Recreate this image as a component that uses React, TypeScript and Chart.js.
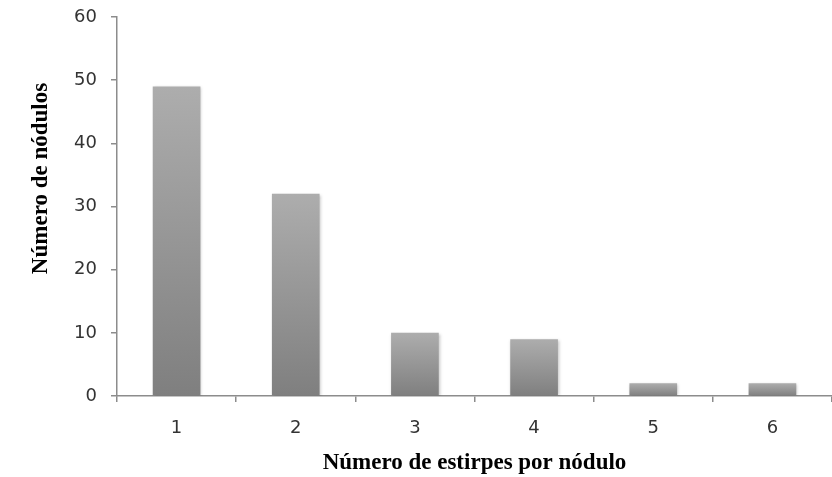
import React, { useEffect, useRef } from "react";
import { Chart, registerables } from "chart.js";

Chart.register(...registerables);

const categories = ["1", "2", "3", "4", "5", "6"];
const nodulos = [49, 32, 10, 9, 2, 2];
const yTicks = [0, 10, 20, 30, 40, 50, 60];
const xTitle = "Número de estirpes por nódulo";
const yTitle = "Número de nódulos";

const yTitlePlugin = {
  id: "yTitlePlugin",
  afterDraw(chart: any) {
    const { ctx, chartArea } = chart;
    ctx.save();
    ctx.font = "bold 23px 'Liberation Serif', 'Times New Roman', serif";
    ctx.fillStyle = "#000";
    ctx.textAlign = "center";
    ctx.textBaseline = "middle";
    ctx.translate(41, (chartArea.top + chartArea.bottom) / 2 - 28);
    ctx.rotate(-Math.PI / 2);
    ctx.fillText(yTitle, 0, 0);
    ctx.restore();
  },
};

const shadowPlugin = {
  id: "shadowPlugin",
  beforeDatasetsDraw(chart: any) {
    const c = chart.ctx;
    c.save();
    c.shadowColor = "rgba(0,0,0,0.25)";
    c.shadowBlur = 3;
    c.shadowOffsetX = 1;
    c.shadowOffsetY = 1;
  },
  afterDatasetsDraw(chart: any) {
    chart.ctx.restore();
  },
};

export default function App() {
  const ref = useRef<HTMLCanvasElement | null>(null);
  useEffect(() => {
    if (!ref.current) return;
    const chart = new Chart(ref.current, {
      type: "bar",
      data: {
        labels: categories,
        datasets: [
          {
            data: nodulos,
            borderWidth: 0,
            barPercentage: 0.4,
            categoryPercentage: 1,
            backgroundColor: (ctx: any) => {
              const ch = ctx.chart;
              const ys = ch.scales && ch.scales.y;
              if (!ys || ctx.type !== "data") return "#999";
              const top = ys.getPixelForValue(ctx.raw);
              const bottom = ys.getPixelForValue(0);
              if (!isFinite(top) || !isFinite(bottom) || top === bottom) return "#999";
              const g = ch.ctx.createLinearGradient(0, top, 0, bottom);
              g.addColorStop(0, "#adadad");
              g.addColorStop(1, "#7f7f7f");
              return g;
            },
          },
        ],
      },
      options: {
        animation: false,
        responsive: false,
        maintainAspectRatio: false,
        layout: { padding: { left: 0, right: -3, top: 17, bottom: 0 } },
        plugins: {
          legend: { display: false },
          tooltip: { enabled: false },
        },
        scales: {
          x: {
            grid: {
              offset: true,
              drawOnChartArea: false,
              drawTicks: true,
              tickLength: 6,
              color: "#8c8c8c",
              lineWidth: 1.5,
            },
            border: { color: "#8c8c8c", width: 1.5 },
            ticks: {
              color: "#333",
              padding: 16,
              font: { family: "'DejaVu Sans', Verdana, sans-serif", size: 18 },
            },
            title: {
              display: true,
              text: xTitle,
              color: "#000",
              font: { family: "'Liberation Serif', 'Times New Roman', serif", size: 23, weight: "bold" },
              padding: { top: 6, bottom: 0 },
            },
            afterFit: (scale: any) => {
              scale.height = 81;
              scale.paddingLeft = 0;
              scale.paddingRight = 0;
            },
          },
          y: {
            min: 0,
            max: 60,
            afterBuildTicks: (scale: any) => {
              scale.ticks = yTicks.map((v) => ({ value: v }));
            },
            grid: {
              drawOnChartArea: false,
              drawTicks: true,
              tickLength: 6,
              color: "#8c8c8c",
              lineWidth: 1.5,
            },
            border: { color: "#8c8c8c", width: 1.5 },
            ticks: {
              color: "#333",
              padding: 14,
              font: { family: "'DejaVu Sans', Verdana, sans-serif", size: 18 },
            },
            afterFit: (scale: any) => {
              scale.width = 117;
              scale.paddingTop = 0;
              scale.paddingBottom = 0;
            },
          },
        },
      },
      plugins: [yTitlePlugin, shadowPlugin],
    });
    return () => chart.destroy();
  }, []);
  return (
    <div style={{ position: "fixed", left: 0, top: 0, width: 832, height: 477, background: "#fff" }}>
      <canvas ref={ref} width={832} height={477} style={{ display: "block", width: 832, height: 477 }} />
    </div>
  );
}
